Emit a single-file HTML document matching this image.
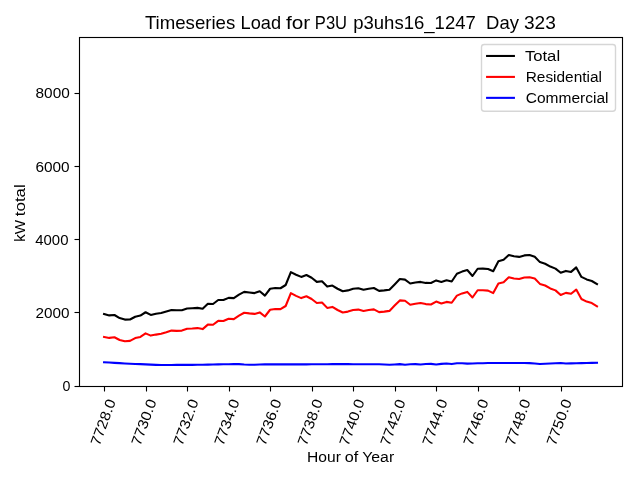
<!DOCTYPE html>
<html lang="en"><head><meta charset="utf-8"><title>Timeseries Load for P3U p3uhs16_1247 Day 323</title>
<style>
html,body{margin:0;padding:0;background:#fff;overflow:hidden;}
body{width:640px;height:480px;overflow:hidden;}
svg{display:block;will-change:transform;transform:translateZ(0);}
text{font-family:"Liberation Sans",sans-serif;fill:#000;}
.t10{font-size:13.89px;}
.t12{font-size:18.60px;}
.xt{font-size:14.40px;}
.ln{fill:none;stroke-width:2.083;stroke-linejoin:round;stroke-linecap:square;}
.ax{stroke:#000;stroke-width:1.111;fill:none;stroke-linecap:butt;}
</style></head><body>
<svg width="640" height="480" viewBox="0 0 640 480">
<rect x="0" y="0" width="640" height="480" fill="#ffffff"/>
<polyline class="ln" stroke="#000000" points="104.07,314.00 109.26,315.40 114.45,315.00 119.64,318.10 124.82,319.60 130.01,319.50 135.20,316.75 140.39,315.60 145.58,312.25 150.77,314.90 155.96,313.75 161.15,313.00 166.33,311.50 171.52,310.00 176.71,310.25 181.90,310.25 187.09,308.50 192.28,308.25 197.47,307.90 202.66,308.75 207.84,303.75 213.03,304.00 218.22,300.00 223.41,300.00 228.60,297.90 233.79,298.10 238.98,294.60 244.17,291.90 249.35,292.50 254.54,293.10 259.73,291.25 264.92,295.60 270.11,288.75 275.30,288.00 280.49,288.25 285.68,285.00 290.87,272.10 296.05,274.75 301.24,276.90 306.43,275.00 311.62,277.75 316.81,281.90 322.00,281.25 327.19,286.60 332.38,285.60 337.56,288.75 342.75,291.25 347.94,290.40 353.13,288.75 358.32,288.25 363.51,289.75 368.70,288.75 373.88,288.00 379.07,290.90 384.26,290.40 389.45,289.75 394.64,284.40 399.83,279.00 405.02,279.60 410.21,283.50 415.39,282.50 420.58,281.90 425.77,282.90 430.96,283.00 436.15,280.40 441.34,281.90 446.53,280.25 451.72,281.50 456.90,273.75 462.09,271.60 467.28,270.05 472.47,276.00 477.66,268.75 482.85,268.60 488.04,269.00 493.23,271.25 498.41,261.25 503.60,259.75 508.79,255.00 513.98,256.25 519.17,256.90 524.36,255.40 529.55,255.00 534.74,256.75 539.92,262.10 545.11,263.75 550.30,266.55 555.49,268.60 560.68,272.80 565.87,270.90 571.06,271.90 576.25,267.40 581.43,276.90 586.62,279.40 591.81,281.00 597.00,284.10"/>
<polyline class="ln" stroke="#ff0000" points="104.07,336.90 109.26,337.90 114.45,337.25 119.64,340.00 124.82,341.25 130.01,340.90 135.20,338.10 140.39,336.90 145.58,333.40 150.77,335.60 155.96,334.60 161.15,333.75 166.33,332.25 171.52,330.60 176.71,330.90 181.90,330.60 187.09,328.75 192.28,328.50 197.47,328.10 202.66,329.10 207.84,324.60 213.03,324.75 218.22,320.90 223.41,321.00 228.60,318.75 233.79,319.10 238.98,315.60 244.17,312.75 249.35,313.40 254.54,313.90 259.73,312.40 264.92,316.50 270.11,309.75 275.30,309.00 280.49,309.10 285.68,306.00 290.87,293.10 296.05,295.90 301.24,298.10 306.43,296.25 311.62,299.00 316.81,303.00 322.00,302.50 327.19,307.90 332.38,306.90 337.56,310.00 342.75,312.50 347.94,311.60 353.13,310.00 358.32,309.60 363.51,311.00 368.70,310.00 373.88,309.40 379.07,312.10 384.26,311.60 389.45,310.90 394.64,305.60 399.83,300.40 405.02,300.75 410.21,304.75 415.39,303.75 420.58,303.00 425.77,304.10 430.96,304.50 436.15,301.60 441.34,303.50 446.53,301.90 451.72,302.75 456.90,295.60 462.09,293.40 467.28,291.90 472.47,297.50 477.66,290.25 482.85,290.25 488.04,290.60 493.23,293.10 498.41,283.40 503.60,282.25 508.79,277.25 513.98,278.50 519.17,279.00 524.36,277.50 529.55,277.20 534.74,278.45 539.92,283.90 545.11,285.50 550.30,288.45 555.49,290.40 560.68,295.00 565.87,292.90 571.06,293.75 576.25,289.60 581.43,299.00 586.62,301.60 591.81,303.10 597.00,306.25"/>
<polyline class="ln" stroke="#0000ff" points="104.07,362.30 109.26,362.57 114.45,362.85 119.64,363.14 124.82,363.42 130.01,363.70 135.20,363.93 140.39,364.16 145.58,364.39 150.77,364.62 155.96,364.85 161.15,364.99 166.33,364.97 171.52,364.94 176.71,364.91 181.90,364.89 187.09,364.86 192.28,364.84 197.47,364.81 202.66,364.73 207.84,364.59 213.03,364.45 218.22,364.35 223.41,364.27 228.60,364.19 233.79,364.10 238.98,364.10 244.17,364.52 249.35,364.71 254.54,364.73 259.73,364.50 264.92,364.40 270.11,364.40 275.30,364.40 280.49,364.40 285.68,364.40 290.87,364.40 296.05,364.40 301.24,364.39 306.43,364.35 311.62,364.31 316.81,364.27 322.00,364.24 327.19,364.20 332.38,364.16 337.56,364.12 342.75,364.11 347.94,364.14 353.13,364.17 358.32,364.19 363.51,364.22 368.70,364.24 373.88,364.27 379.07,364.30 384.26,364.47 389.45,364.68 394.64,364.42 399.83,364.11 405.02,364.70 410.21,364.18 415.39,364.11 420.58,364.46 425.77,364.07 430.96,363.87 436.15,364.48 441.34,363.91 446.53,363.48 451.72,364.09 456.90,363.27 462.09,363.33 467.28,363.59 472.47,363.46 477.66,363.33 482.85,363.19 488.04,363.06 493.23,362.92 498.41,362.99 503.60,362.96 508.79,362.97 513.98,362.97 519.17,362.98 524.36,362.99 529.55,363.12 534.74,363.53 539.92,363.94 545.11,363.71 550.30,363.46 555.49,363.21 560.68,363.07 565.87,363.48 571.06,363.35 576.25,363.23 581.43,363.10 586.62,362.98 591.81,362.85 597.00,362.72"/>
<rect class="ax" x="79.5" y="37.5" width="543.0" height="349.0"/>
<line class="ax" x1="74.5" y1="386.5" x2="79" y2="386.5"/>
<text class="t10" x="62.41" y="390.90" textLength="7.90" lengthAdjust="spacingAndGlyphs">0</text>
<line class="ax" x1="74.5" y1="312.5" x2="79" y2="312.5"/>
<text class="t10" x="35.63" y="317.90" textLength="34.00" lengthAdjust="spacingAndGlyphs">2000</text>
<line class="ax" x1="74.5" y1="239.5" x2="79" y2="239.5"/>
<text class="t10" x="35.26" y="244.90" textLength="33.20" lengthAdjust="spacingAndGlyphs">4000</text>
<line class="ax" x1="74.5" y1="166.5" x2="79" y2="166.5"/>
<text class="t10" x="35.48" y="171.90" textLength="34.20" lengthAdjust="spacingAndGlyphs">6000</text>
<line class="ax" x1="74.5" y1="93.5" x2="79" y2="93.5"/>
<text class="t10" x="35.57" y="97.90" textLength="34.20" lengthAdjust="spacingAndGlyphs">8000</text>
<line class="ax" x1="104.5" y1="387" x2="104.5" y2="391.5"/>
<text class="t10 xt" transform="translate(99.40,446.58) rotate(-70)" textLength="48.25" lengthAdjust="spacingAndGlyphs">7728.0</text>
<line class="ax" x1="146.5" y1="387" x2="146.5" y2="391.5"/>
<text class="t10 xt" transform="translate(140.34,446.53) rotate(-70)" textLength="48.25" lengthAdjust="spacingAndGlyphs">7730.0</text>
<line class="ax" x1="187.5" y1="387" x2="187.5" y2="391.5"/>
<text class="t10 xt" transform="translate(182.36,446.61) rotate(-70)" textLength="48.25" lengthAdjust="spacingAndGlyphs">7732.0</text>
<line class="ax" x1="229.5" y1="387" x2="229.5" y2="391.5"/>
<text class="t10 xt" transform="translate(223.33,446.54) rotate(-70)" textLength="48.25" lengthAdjust="spacingAndGlyphs">7734.0</text>
<line class="ax" x1="270.5" y1="387" x2="270.5" y2="391.5"/>
<text class="t10 xt" transform="translate(265.35,446.51) rotate(-70)" textLength="48.25" lengthAdjust="spacingAndGlyphs">7736.0</text>
<line class="ax" x1="312.5" y1="387" x2="312.5" y2="391.5"/>
<text class="t10 xt" transform="translate(306.38,446.48) rotate(-70)" textLength="48.25" lengthAdjust="spacingAndGlyphs">7738.0</text>
<line class="ax" x1="353.5" y1="387" x2="353.5" y2="391.5"/>
<text class="t10 xt" transform="translate(348.34,446.69) rotate(-70)" textLength="48.25" lengthAdjust="spacingAndGlyphs">7740.0</text>
<line class="ax" x1="395.5" y1="387" x2="395.5" y2="391.5"/>
<text class="t10 xt" transform="translate(389.37,446.74) rotate(-70)" textLength="48.25" lengthAdjust="spacingAndGlyphs">7742.0</text>
<line class="ax" x1="436.5" y1="387" x2="436.5" y2="391.5"/>
<text class="t10 xt" transform="translate(431.33,446.70) rotate(-70)" textLength="48.25" lengthAdjust="spacingAndGlyphs">7744.0</text>
<line class="ax" x1="478.5" y1="387" x2="478.5" y2="391.5"/>
<text class="t10 xt" transform="translate(472.36,446.64) rotate(-70)" textLength="48.25" lengthAdjust="spacingAndGlyphs">7746.0</text>
<line class="ax" x1="519.5" y1="387" x2="519.5" y2="391.5"/>
<text class="t10 xt" transform="translate(514.37,446.64) rotate(-70)" textLength="48.25" lengthAdjust="spacingAndGlyphs">7748.0</text>
<line class="ax" x1="561.5" y1="387" x2="561.5" y2="391.5"/>
<text class="t10 xt" transform="translate(555.40,446.55) rotate(-70)" textLength="48.25" lengthAdjust="spacingAndGlyphs">7750.0</text>
<g transform="translate(144.90,29.00)"><text class="t12" x="0.00" y="0" textLength="90.38" lengthAdjust="spacingAndGlyphs">Timeseries</text><text class="t12" x="95.62" y="0" textLength="40.50" lengthAdjust="spacingAndGlyphs">Load</text><text class="t12" x="141.10" y="0" textLength="24.20" lengthAdjust="spacingAndGlyphs">for</text><text class="t12" x="169.95" y="0" textLength="32.20" lengthAdjust="spacingAndGlyphs">P3U</text><text class="t12" x="208.30" y="0" textLength="122.62" lengthAdjust="spacingAndGlyphs">p3uhs16_1247</text><text class="t12" x="341.20" y="0" textLength="32.88" lengthAdjust="spacingAndGlyphs">Day</text><text class="t12" x="379.05" y="0" textLength="31.88" lengthAdjust="spacingAndGlyphs">323</text></g>
<g transform="translate(308.30,462.00)"><text class="t10" x="-1.20" y="0" textLength="33.80" lengthAdjust="spacingAndGlyphs">Hour</text><text class="t10" x="36.55" y="0" textLength="13.50" lengthAdjust="spacingAndGlyphs">of</text><text class="t10" x="53.90" y="0" textLength="32.00" lengthAdjust="spacingAndGlyphs">Year</text></g>
<g transform="translate(25.20,241.60) rotate(-90)"><text class="t10" x="-0.28" y="0" textLength="21.88" lengthAdjust="spacingAndGlyphs">kW</text><text class="t10" x="25.40" y="0" textLength="32.00" lengthAdjust="spacingAndGlyphs">total</text></g>
<rect x="481.50" y="44.50" width="134.00" height="66.75" rx="2.8" ry="2.8" fill="#ffffff" fill-opacity="0.8" stroke="#cccccc" stroke-opacity="0.8" stroke-width="1.389"/>
<line class="ln" stroke="#000000" x1="487.10" y1="55.97" x2="513.90" y2="55.97"/>
<text class="t10" x="524.90" y="60.87" textLength="35.20" lengthAdjust="spacingAndGlyphs">Total</text>
<line class="ln" stroke="#ff0000" x1="487.10" y1="76.91" x2="513.90" y2="76.91"/>
<text class="t10" x="525.70" y="81.81" textLength="76.30" lengthAdjust="spacingAndGlyphs">Residential</text>
<line class="ln" stroke="#0000ff" x1="487.10" y1="97.86" x2="513.90" y2="97.86"/>
<text class="t10" x="525.70" y="102.76" textLength="82.80" lengthAdjust="spacingAndGlyphs">Commercial</text>
</svg>
</body></html>
